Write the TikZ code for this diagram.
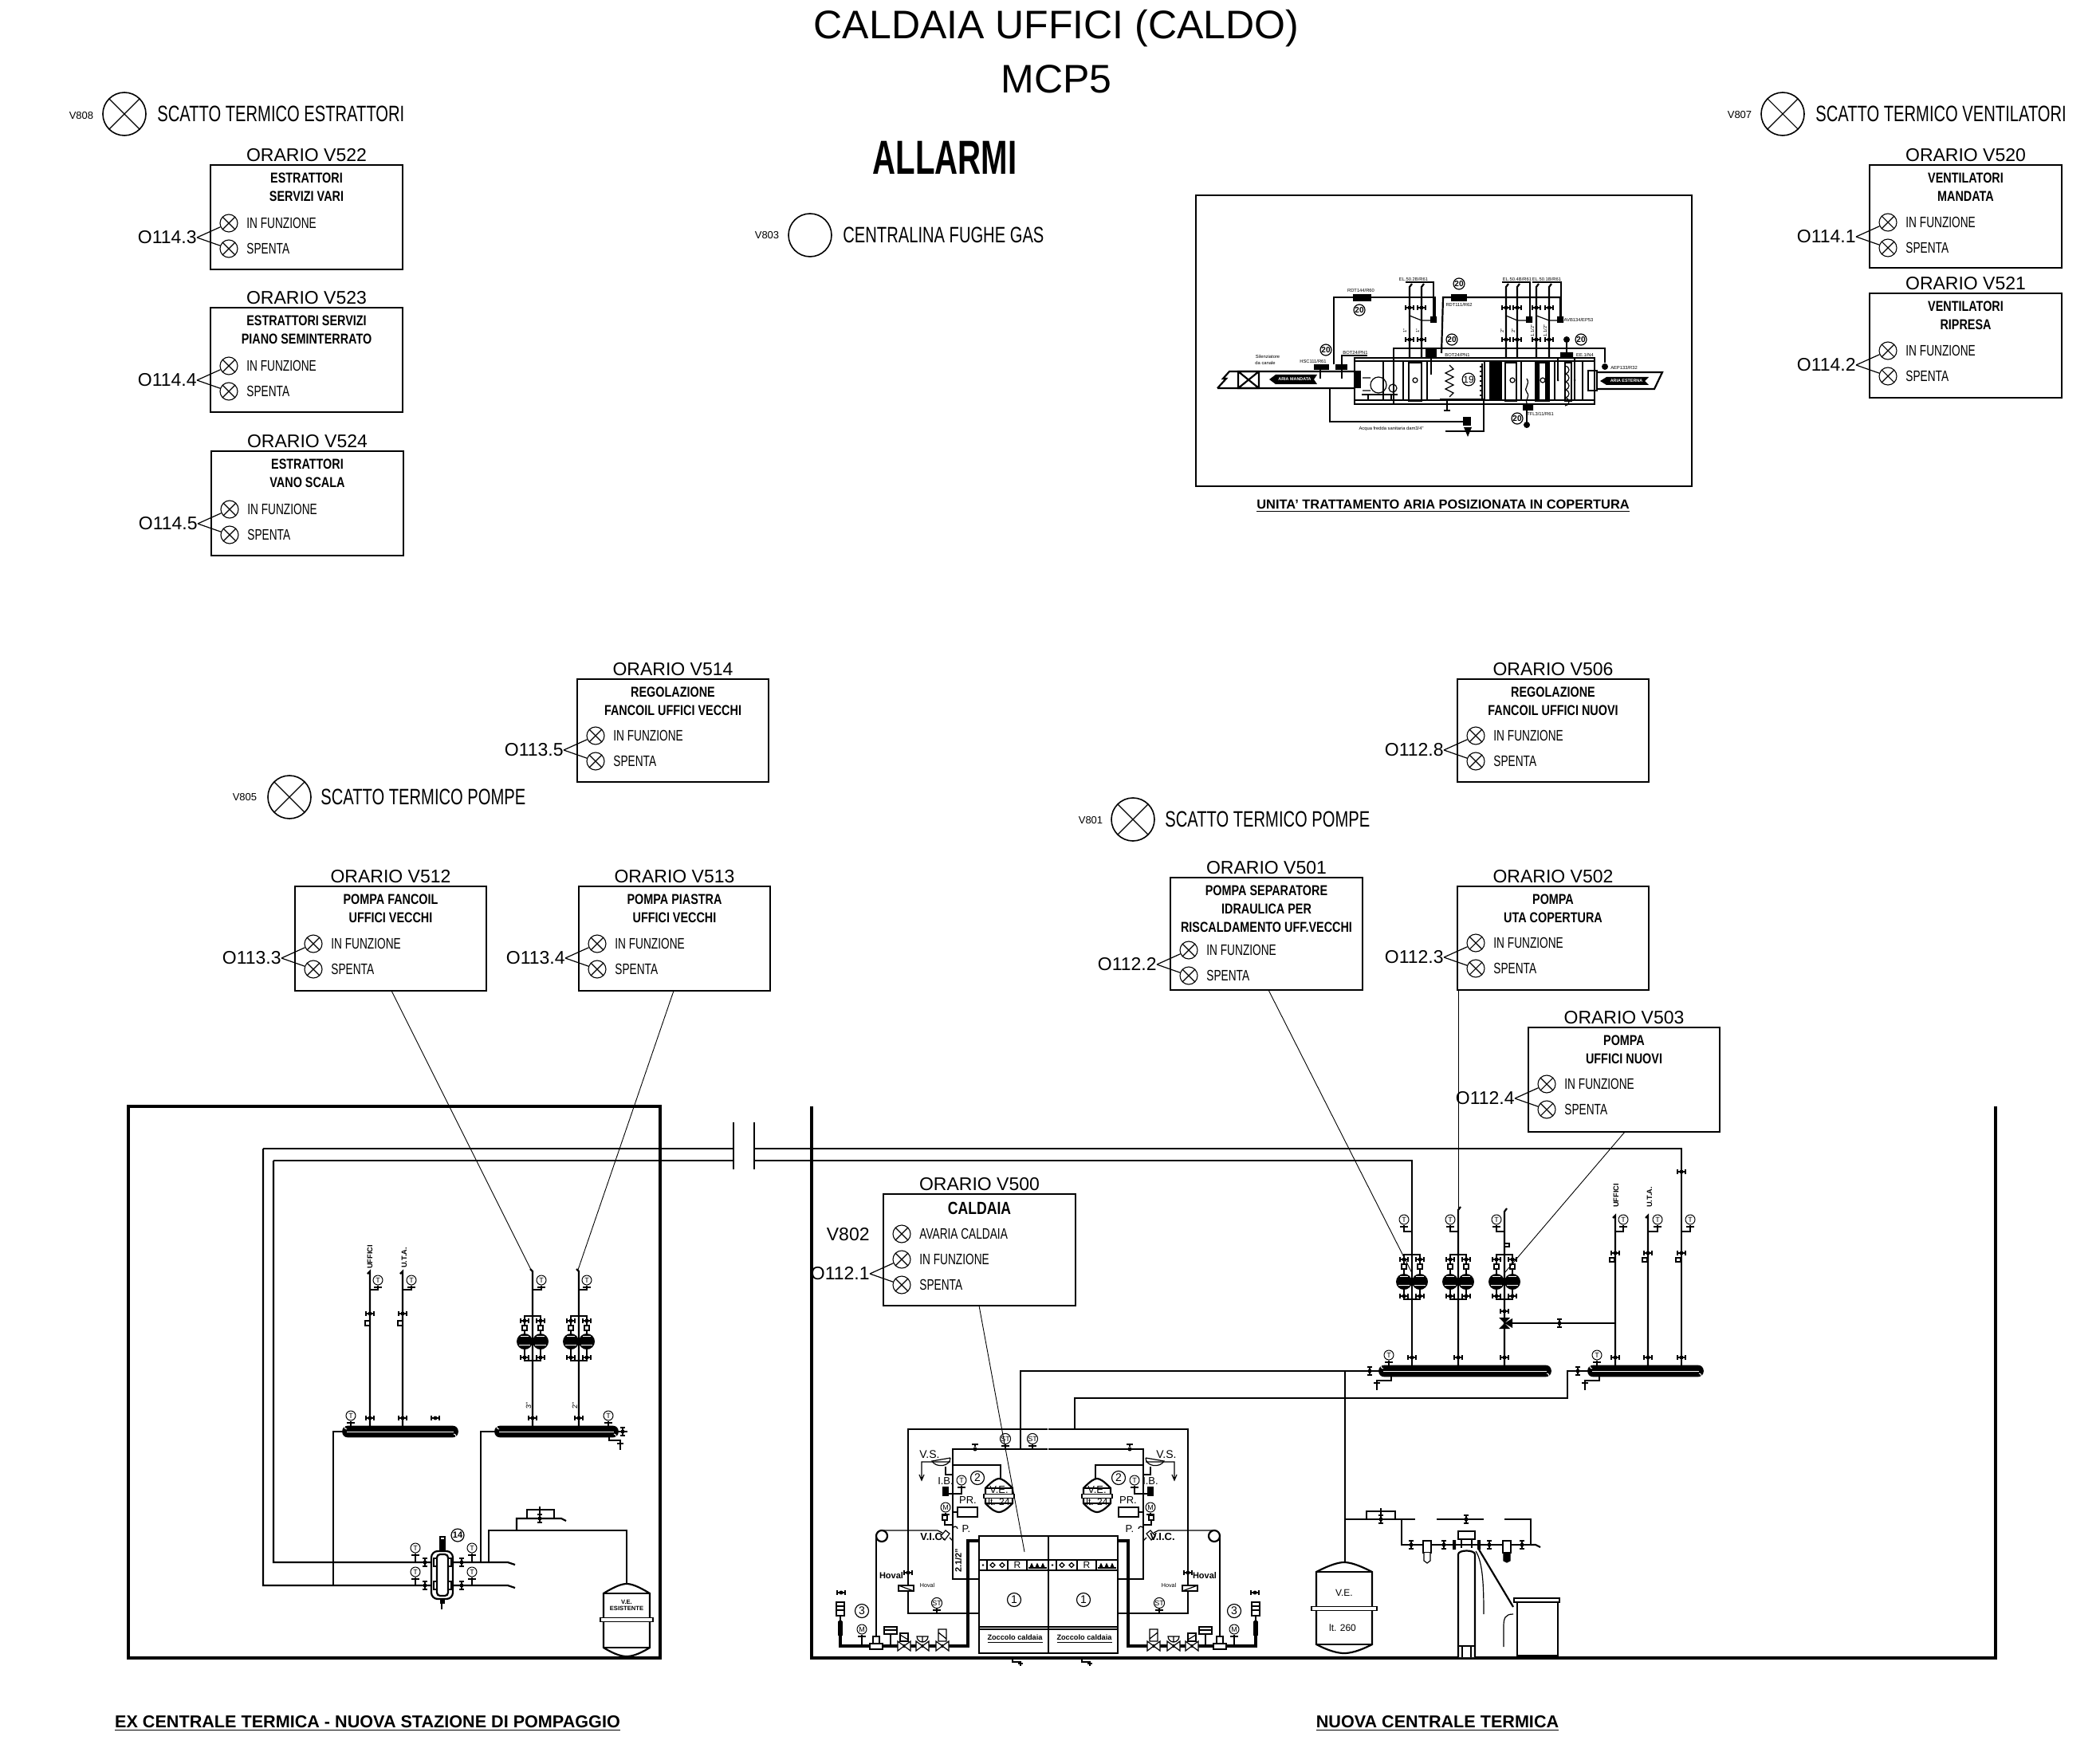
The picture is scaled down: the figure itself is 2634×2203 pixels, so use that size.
\documentclass[tikz,border=0pt]{standalone}
\usepackage{fontspec}
\setmainfont{Liberation Sans}
\newfontfamily\cad{Liberation Sans}[FakeStretch=0.72]
\newfontfamily\cadb{Liberation Sans}[FakeStretch=0.8]
\newcommand{\fsz}[1]{\fontsize{#1}{#1}\selectfont}
\newcount\ndc
\tikzset{
  lamp/.style={circle,draw,minimum size=#1pt,inner sep=0pt,line width=.55pt,
    path picture={\draw[line width=.55pt] (path picture bounding box.north west)--(path picture bounding box.south east)
      (path picture bounding box.north east)--(path picture bounding box.south west);}},
  boxln/.style={line width=.75pt},
  leader/.style={line width=.45pt},
  pipe/.style={line width=1.1pt},
  pipek/.style={line width=2pt},
  pipet/.style={line width=.6pt},
  wall/.style={line width=2pt},
  gaugec/.style={circle,draw,fill=white,line width=.5pt,minimum size=6pt,inner sep=0pt,font=\fsz{4.5}},
  num/.style={circle,draw,fill=white,line width=.6pt,minimum size=8.5pt,inner sep=0pt,font=\fsz{7}},
  numa/.style={circle,draw,fill=white,line width=.6pt,minimum size=7pt,inner sep=0pt,font=\bfseries\fsz{5}},
  orario/.style={inner sep=0pt,font=\fsz{11.5}},
  olabel/.style={inner sep=0pt,anchor=east,font=\fsz{11.5}},
  statetxt/.style={inner sep=0pt,anchor=west,font=\cad\fsz{9.5}},
  headtxt/.style={inner sep=0pt,anchor=north,align=center,font=\cadb\bfseries\fontsize{9}{11.5}\selectfont},
  vtag/.style={inner sep=0pt,font=\fsz{6.5}},
  bigtxt/.style={inner sep=0pt,anchor=west,font=\cad\fsz{14}},
  captxt/.style={inner sep=0pt,font=\bfseries\fsz{10.8}},
  tin/.style={inner sep=0pt,font=\bfseries\fsz{4.6}},
  mic/.style={inner sep=0pt,font=\fsz{2.9}},
}
% status panel: id x1 y1 x2 y2 orario heading olabel lamp-y
\newcommand{\statusbox}[9]{%
  \node[draw,boxln,inner sep=0pt,minimum width={(#4-#2)*0.5pt},minimum height={(#5-#3)*0.5pt}] (#1box) at ({(#2+#4)/2},{(#3+#5)/2}) {};
  \node[orario] (#1or) at ({(#2+#4)/2},{#3-12}) {#6};
  \node[headtxt] (#1hd) at ({(#2+#4)/2},{#3+10}) {#7};
  \node[lamp=11] (#1a) at ({#2+23},{#9}) {};
  \node[lamp=11] (#1b) at ({#2+23},{#9+32}) {};
  \node[statetxt] (#1ta) at ({#2+45},{#9}) {IN FUNZIONE};
  \node[statetxt] (#1tb) at ({#2+45},{#9+32}) {SPENTA};
  \node[olabel] (#1o) at ({#2-17},{#9+18}) {#8};
  \draw[pipet] (#1o.east) -- (#1a) (#1o.east) -- (#1b);
}
\newcommand{\gaugex}[5]{\global\advance\ndc by 1 \node[gaugec] (g\the\ndc) at (#2,#3) {#1};
  \draw[pipet] (g\the\ndc.south) |- (#4,#5); \draw[pipet] ({#2-5},{#3+9}) -- ({#2+5},{#3+9});}
\newcommand{\gauge}[4]{\gaugex{T}{#1}{#2}{#3}{#4}}
\newcommand{\valve}[3]{\begin{scope}[shift={(#1,#2)},rotate=#3]\draw[pipet] (-5,-3)--(-5,3) (5,-3)--(5,3) (-5,0)--(5,0);\fill (0,0) circle[radius=2.5];\end{scope}}
\newcommand{\pump}[2]{\fill (#1,#2) circle[radius=10];
  \draw[white,line width=.5pt] ({#1-7},{#2+4}) -- ({#1+7},{#2+4}) ({#1-5},{#2-7}) -- ({#1+5},{#2-7});}
\newcommand{\pumpblock}[4]{%
  \draw[pipe] ({#1-10},#4) -- ({#1-10},#2) -- ({#1+10},#2) -- ({#1+10},#3) -- ({#1-10},#3) -- cycle;
  \pump{#1-10}{#4}\pump{#1+10}{#4}
  \valve{#1-10}{#2+6}{0}\valve{#1+10}{#2+6}{0}
  \valve{#1-10}{#3-4}{0}\valve{#1+10}{#3-4}{0}
  \draw[pipet,fill=white] ({#1-13},{#2+12}) rectangle ++(6,6) ({#1+7},{#2+12}) rectangle ++(6,6);
}
\newcommand{\collector}[3]{%
  \draw[line width=.8pt,fill=black,rounded corners=3pt] (#1,{#3-6.5}) rectangle (#2,{#3+6.5});
  \draw[white,line width=.5pt] ({#1+5},#3) -- ({#2-5},#3);
  \draw[white,line width=.5pt] ({#1+5},{#3-3}) arc[start angle=90,end angle=270,radius=3] ({#2-5},{#3+3}) arc[start angle=-90,end angle=90,radius=3];
}
\newcommand{\vessel}[6]{%
  \draw[pipe,fill=white] ({#1-#4},{#3-11}) -- ({#1-#4},{#2+12}) .. controls ({#1-#4*.5},{#2+3}) and ({#1-#4*.2},#2) .. (#1,#2)
   .. controls ({#1+#4*.2},#2) and ({#1+#4*.5},{#2+3}) .. ({#1+#4},{#2+12}) -- ({#1+#4},{#3-11})
   .. controls ({#1+#4*.5},{#3-2}) and ({#1+#4*.2},#3) .. (#1,#3) .. controls ({#1-#4*.2},#3) and ({#1-#4*.5},{#3-2}) .. ({#1-#4},{#3-11}) -- cycle;
  \draw[pipet] ({#1-#4},{#2+12}) -- ({#1+#4},{#2+12}) ({#1-#4},{#3-11}) -- ({#1+#4},{#3-11});
  \draw[pipet,fill=white] ({#1-#6},{#5-2.5}) rectangle ({#1+#6},{#5+2.5});
}
\newcommand{\bowv}[2]{\draw[pipet,fill=white] ({#1-8},{#2-6}) -- ({#1+8},{#2+6}) -- ({#1+8},{#2-6}) -- ({#1-8},{#2+6}) -- cycle;}
\newcommand{\bunit}[2]{%
  \draw[pipe] (#2,1957) rectangle ({#2+87},1970);
  \draw[pipet] ({#2+10},1957)--({#2+10},1970) ({#2+36},1957)--({#2+36},1970) ({#2+60},1957)--({#2+60},1970);
  \fill ({#2+5},1963.5) circle[radius=1.4];
  \foreach \q in {17,29}{\draw[pipet] ({#2+\q-3},1963.5) -- ({#2+\q},1960.5) -- ({#2+\q+3},1963.5) -- ({#2+\q},1966.5) -- cycle;}
  \node[inner sep=0pt,font=\fsz{6}] (#1r) at ({#2+48},1963.5) {R};
  \foreach \q in {66,73,80}{\fill ({#2+\q-2.5},1966) -- ({#2+\q},1960.5) -- ({#2+\q+2.5},1966) -- cycle;}
  \draw[pipet] ({#2+62},1967) -- ({#2+85},1967);
  \node[num] (#1n) at ({#2+44},2007) {1};
  \node[inner sep=0pt,font=\bfseries\fsz{4.6}] (#1z) at ({#2+45},2056) {\underline{Zoccolo caldaia}};
  \draw[pipet] ({#2+42},2080) -- ({#2+42},2085) -- ({#2+52},2085) -- ({#2+52},2090) ({#2+49},2087) -- ({#2+55},2087);
}
\newcommand{\boilerhalf}[2]{%
  \draw[pipe] (1315,1793) -- (1490,1793) -- (1490,2024) -- (1402,2024);
  \draw[pipe] (1315,1818) -- (1434,1818) -- (1434,1981) -- (1402,1981);
  \draw[pipek] (1402,1933) -- (1415,1933) -- (1415,2065) -- (1575,2065) -- (1575,2033);
  \draw[line width=3pt] (1575,2052) -- (1575,2034);
  \draw[pipet,fill=white] (1570,2010) rectangle (1580,2027);
  \draw[pipet] (1570,2015)--(1580,2015) (1570,2020)--(1580,2020);
  \draw[pipet] (1575,2027) -- (1575,2033);
  \valve{1574}{1998}{0}
  % safety valve etc
  \draw[pipet] (1434,1838) -- (1374,1838) -- (1374,1855);
  \vessel{1376}{1855}{1897}{17}{1877}{19}
  \node[inner sep=0pt,font=\fsz{6.5}] (#1ve) at (1376,1869) {V.E.};
  \node[inner sep=0pt,font=\fsz{6}] (#1lt) at (1376,1884) {lt. 24};
  \node[num] (#1n2) at (1403,1854) {2};
  \gauge{1423}{1857}{1434}{1874}
  \draw[pipet] (1434,1850) -- (1443,1850) -- (1443,1840);
  \draw[pipet,fill=white] (1437,1829) .. controls (1437,1840) and (1455,1842) .. (1460,1833) -- (1437,1829);
  \draw[pipet] (1437,1834) -- (1473,1834) -- (1473,1857) (1470,1850) -- (1473,1857) -- (1476,1850);
  \node[inner sep=0pt,font=\fsz{7}] (#1vs) at (1463,1825) {V.S.};
  \node[inner sep=0pt,font=\fsz{6.5}] (#1ib) at (1443,1858) {I.B.};
  \draw[pipet] (1434,1874) -- (1443,1874);
  \draw[pipet,fill=black] (1440,1866) rectangle (1446,1876);
  \node[inner sep=0pt,font=\fsz{6.5}] (#1pr) at (1415,1882) {PR.};
  \draw[pipet,fill=white] (1403,1891) rectangle (1428,1903);
  \draw[pipet] (1428,1897) -- (1434,1897);
  \gaugex{M}{1443}{1891}{1443}{1901}
  \draw[pipet] (1441,1901) rectangle (1447,1907);
  \draw[pipet] (1444,1907) -- (1444,1913) -- (1434,1913);
  \node[inner sep=0pt,font=\fsz{6.5}] (#1p) at (1417,1918) {P.};
  \draw[pipet] (1428,1918) arc[start angle=180,end angle=360,radius=3];
  \draw[pipet,fill=white] (1438,1924) -- (1443,1920) -- (1449,1927) -- (1444,1932) -- cycle;
  \draw[pipet] (1434,1933) -- (1438,1929) (1447,1923) -- (1453,1920) -- (1523,1920);
  \node[inner sep=0pt,font=\bfseries\fsz{6.5}] (#1vic) at (#2,1928) {V.I.C.};
  \draw[pipe,fill=white] (1523,1927) circle[radius=7];
  \draw[pipet] (1530,1927) -- (1530,2053);
  \valve{1490}{1973}{0}
  \node[inner sep=0pt,font=\bfseries\fsz{5.5}] (#1ho) at (1511,1977) {Hoval};
  \draw[pipet,fill=white] (1483,1989) rectangle (1502,1996);
  \draw[pipet] (1483,1996) -- (1502,1989);
  \node[inner sep=0pt,font=\fsz{3.6}] (#1hs) at (1466,1989) {Hoval};
  \gaugex{ST}{1454}{2011}{1454}{2024}
  % bottom line fittings
  \bowv{1447}{2065}\draw[pipet,fill=white] (1442,2044) -- (1452,2044) -- (1452,2059) -- (1442,2059) -- cycle (1442,2056) -- (1452,2048);
  \bowv{1472}{2065}\draw[pipet] (1472,2059) -- (1472,2053) (1465,2053) arc[start angle=180,end angle=0,radius=7] -- cycle;
  \bowv{1495}{2065}\draw[pipet,fill=white] (1490,2049) rectangle (1500,2059);\draw[pipet] (1490,2057) -- (1500,2051);
  \draw[pipet,fill=white] (1504,2041) rectangle (1520,2050);\draw[pipet] (1504,2045) -- (1520,2045) (1512,2050) -- (1512,2065);
  \draw[pipet,fill=white] (1522,2062) rectangle (1538,2069);\draw[pipet,fill=white] (1526,2053) rectangle (1534,2062);
  \gaugex{M}{1548}{2044}{1548}{2065}
  \node[num] (#1n3) at (1548,2021) {3};
}
\begin{document}
\begin{tikzpicture}[x=0.5pt,y=-0.5pt,line cap=butt]
\useasboundingbox (0,0) rectangle (2634,2203);
\fill[white] (0,0) rectangle (2634,2203);

% ---- titles
\node[inner sep=0pt,font=\fsz{25}] (title) at (1325,36) {CALDAIA UFFICI (CALDO)};
\node[inner sep=0pt,font=\fsz{25}] (mcp) at (1325,99) {MCP5};
\node[inner sep=0pt] (allarmi) at (1185,198) {\scalebox{0.67}[1]{\fsz{30}\bfseries ALLARMI}};

% ---- big alarm lamps
\node[lamp=27,line width=.8pt] (l808) at (156,143) {};
\node[vtag] (t808) at (102,145) {V808};
\node[bigtxt] (x808) at (197,143) {SCATTO TERMICO ESTRATTORI};
\node[lamp=27,line width=.8pt] (l807) at (2236,143) {};
\node[vtag] (t807) at (2182,144) {V807};
\node[bigtxt] (x807) at (2277,143) {SCATTO TERMICO VENTILATORI};
\node[circle,draw,line width=.8pt,minimum size=27pt,inner sep=0pt] (l803) at (1016,295) {};
\node[vtag] (t803) at (962,295) {V803};
\node[bigtxt] (x803) at (1057,295) {CENTRALINA FUGHE GAS};
\node[lamp=27,line width=.8pt] (l805) at (363,1000) {};
\node[vtag] (t805) at (307,1000) {V805};
\node[bigtxt] (x805) at (402,1000) {SCATTO TERMICO POMPE};
\node[lamp=27,line width=.8pt] (l801) at (1421,1028) {};
\node[vtag] (t801) at (1368,1029) {V801};
\node[bigtxt] (x801) at (1461,1028) {SCATTO TERMICO POMPE};

% ---- status panels
\statusbox{a}{264}{207}{505}{338}{ORARIO  V522}{ESTRATTORI\\SERVIZI VARI}{O114.3}{280}
\statusbox{b}{264}{386}{505}{517}{ORARIO  V523}{ESTRATTORI SERVIZI\\PIANO SEMINTERRATO}{O114.4}{459}
\statusbox{c}{265}{566}{506}{697}{ORARIO  V524}{ESTRATTORI\\VANO SCALA}{O114.5}{639}
\statusbox{d}{2345}{207}{2586}{336}{ORARIO  V520}{VENTILATORI\\MANDATA}{O114.1}{279}
\statusbox{e}{2345}{368}{2586}{499}{ORARIO  V521}{VENTILATORI\\RIPRESA}{O114.2}{440}
\statusbox{f}{724}{852}{964}{981}{ORARIO  V514}{REGOLAZIONE\\FANCOIL UFFICI VECCHI}{O113.5}{923}
\statusbox{g}{370}{1112}{610}{1243}{ORARIO  V512}{POMPA FANCOIL\\UFFICI VECCHI}{O113.3}{1184}
\statusbox{h}{726}{1112}{966}{1243}{ORARIO  V513}{POMPA PIASTRA\\UFFICI VECCHI}{O113.4}{1184}
\statusbox{i}{1828}{852}{2068}{981}{ORARIO  V506}{REGOLAZIONE\\FANCOIL UFFICI NUOVI}{O112.8}{923}
\statusbox{j}{1468}{1101}{1709}{1242}{ORARIO  V501}{POMPA SEPARATORE\\IDRAULICA PER\\RISCALDAMENTO UFF.VECCHI}{O112.2}{1192}
\statusbox{k}{1828}{1112}{2068}{1242}{ORARIO  V502}{POMPA\\UTA COPERTURA}{O112.3}{1183}
\statusbox{m}{1917}{1289}{2157}{1420}{ORARIO  V503}{POMPA\\UFFICI NUOVI}{O112.4}{1360}
\statusbox{n}{1108}{1498}{1349}{1638}{ORARIO  V500}{{\fsz{11}CALDAIA}}{O112.1}{1580}
\node[lamp=11] (nx) at (1131,1548) {};
\node[statetxt] (ntx) at (1153,1548) {AVARIA CALDAIA};
\node[olabel] (v802) at (1091,1549) {V802};

% ---- AHU frame
\node[draw,line width=1.1pt,inner sep=0pt,minimum width=311pt,minimum height=182.5pt] (ahubox) at (1811,427.5) {};
\node[inner sep=0pt,font=\bfseries\fsz{8.2}] (ahucap) at (1810,635) {\underline{UNITA' TRATTAMENTO ARIA POSIZIONATA IN COPERTURA}};
% ducts & casing
\draw[pipe] (1527,487) -- (1538,475) -- (1534,475) -- (1542,466) -- (1699,466) (1527,487) -- (1699,487);
\draw[pipe] (1553,466) rectangle (1579,487) (1553,466) -- (1579,487) (1579,466) -- (1553,487);
\fill (1592,476) -- (1600,470) -- (1652,470) -- (1648,476) -- (1652,482) -- (1600,482) -- cycle;
\node[inner sep=0pt,text=white,font=\bfseries\fsz{2.7}] (aria1) at (1624,476) {ARIA MANDATA};
\draw[line width=1.2pt] (1699,449) rectangle (2000,507);
\draw[pipet] (1699,453) -- (2000,453) (1699,502) -- (2000,502);
\fill (1700,465) rectangle (1707,487);
\draw[pipet] (1729,483) circle[radius=10] (1719,474) -- (1709,474) (1719,490) -- (1709,490);
\draw[pipet] (1747,487) circle[radius=5];
\draw[pipe] (1708,495) -- (1753,495);
\draw[pipet] (1716,495) -- (1716,502) (1745,495) -- (1745,502);
\foreach \xx in {1735,1760,1767,1783,1790,1862,1869,1883,1888,1902,1908,1926,1943,1950,1975,1985}{\draw[pipet] (\xx,453) -- (\xx,502);}
\draw[pipe] (1767,455) rectangle (1783,503) (1888,455) rectangle (1902,503) (1926,455) rectangle (1943,503);
\fill (1926,455) rectangle (1931,503) (1938,455) rectangle (1943,503);
\fill (1870,453) rectangle (1882,502);
\draw[pipet] (1775,477) circle[radius=3] (1897,477) circle[radius=3] (1935,477) circle[radius=3];
\draw[pipet] (1818,458) -- (1823,463) -- (1813,468) -- (1823,473) -- (1813,478) -- (1823,483) -- (1813,488) -- (1823,493) -- (1818,498);
\node[num,minimum size=7pt,font=\fsz{6}] (n19) at (1842,476) {19};
\draw[pipet] (1859,456) -- (1859,500);
\foreach \yy in {460,466,...,496}{\draw[pipet] (1859,\yy) -- (1856,\yy);}
\draw[pipe] (1806,501) -- (1862,501);
\draw[pipe] (1815,503) -- (1815,515) (1811,515) -- (1819,515);
\draw[pipet] (1915,475) .. controls (1920,482) and (1910,488) .. (1915,492) .. controls (1920,498) and (1912,502) .. (1915,506);
\draw[pipet] (1963,455) rectangle (1971,503);
\foreach \yy in {459,469,...,499}{\draw[pipet] (1963,\yy) arc[start angle=-90,end angle=90,radius=5];}
\draw[pipe] (1992,465) rectangle (2003,490);
\draw[pipe] (2003,467) -- (2085,467) -- (2075,488) -- (2003,488);
\fill (2007,478) -- (2015,473) -- (2068,473) -- (2063,478) -- (2068,483) -- (2015,483) -- cycle;
\node[inner sep=0pt,text=white,font=\bfseries\fsz{2.7}] (aria2) at (2040,478) {ARIA ESTERNA};
% water
\draw[pipet] (1668,487) -- (1668,529) -- (1836,529);
\draw[pipe] (1813,541) -- (1861,541) -- (1861,503);
\fill (1835,523) rectangle (1845,534);
\fill (1836,536) -- (1846,536) -- (1841,548) -- cycle;
\node[mic] (acq) at (1745,538) {Acqua fredda sanitaria dam3/4"};
\node[mic] (sil1) at (1590,447) {Silenziatore};
\node[mic] (sil2) at (1587,455) {da canale};
% sensors
\node[mic] (hsc) at (1647,453) {HSC111/R61};
\fill (1648,457) rectangle (1667,464);
\draw[pipet] (1656,464) -- (1656,475);
\fill (1675,457) rectangle (1690,464);
\draw[pipet] (1683,464) -- (1683,475) (1683,457) -- (1683,446) -- (1715,446);
\node[mic] (bot1) at (1700,442) {BOT24/PN1};
\node[numa] (c20a) at (1663,439) {20};
\draw[pipe] (1673,457) -- (1673,373) -- (1800,373) -- (1800,397);
\fill (1697,369) rectangle (1720,378);
\node[mic] (rdt1) at (1707,364) {RDT144/R60};
\node[numa] (c20b) at (1705,389) {20};
% coil piping
\foreach \xa/\xb in {1768/1783,1889/1903,1927/1943}{
  \draw[pipe] (\xa,450) -- (\xa,360) -- ++(3,-4) (\xb,450) -- (\xb,360) -- ++(3,-4);
  \valve{\xa}{386}{0}\valve{\xb}{386}{0}\valve{\xa}{426}{0}\valve{\xb}{426}{0}
  \draw[pipet] (\xa,396) -- (\xb,402) -- ++(12,0);
}
\fill (1794,397) rectangle (1802,405) (1914,397) rectangle (1922,405) (1953,397) rectangle (1961,405);
\draw[pipet] (1763,354) -- (1798,354) -- (1798,397) (1884,354) -- (1919,354) -- (1919,397) (1922,354) -- (1958,354) -- (1958,397);
\node[mic] (el1) at (1773,350) {EL.50.2B/R61};
\node[mic] (el2) at (1903,350) {EL.50.4B/R61};
\node[mic] (el3) at (1940,350) {EL.50.1B/R61};
\node[mic] (avb) at (1980,401) {AVB134/EP53};
\node[mic,rotate=90] (s1) at (1762,415) {1"};
\node[mic,rotate=90] (s2) at (1778,415) {1"};
\node[mic,rotate=90] (s3) at (1884,415) {2"};
\node[mic,rotate=90] (s4) at (1898,415) {2"};
\node[mic,rotate=90] (s5) at (1922,415) {1.1/2"};
\node[mic,rotate=90] (s6) at (1938,415) {1.1/2"};
\draw[pipet] (1748,507) -- (1748,437) -- (2013,437) -- (2013,455);
\draw[pipe] (1808,443) -- (1810,373) -- (1957,373) -- (1957,397);
\fill (1820,369) rectangle (1840,378);
\fill (1788,438) rectangle (1802,448);
\draw[pipet] (1795,448) -- (1795,470);
\node[mic] (rdt2) at (1830,382) {RDT111/R62};
\node[numa] (c20c) at (1830,356) {20};
\node[numa] (c20d) at (1821,426) {20};
\node[mic] (bot2) at (1828,445) {BOT24/PN1};
\fill (1965,426) circle[radius=4] (1957,442) rectangle (1973,448);
\draw[pipet] (1965,426) -- (1965,442) (1954,448) -- (1954,477) (1975,448) -- (1975,477);
\fill (1954,477) circle[radius=1.5] (1975,477) circle[radius=1.5];
\node[mic] (ee) at (1988,445) {EE.1/N4};
\node[numa] (c20e) at (1983,426) {20};
\fill (2013,460) circle[radius=4];
\node[mic] (aep) at (2037,461) {AEP133/R32};
\fill (1910,508) rectangle (1923,515) (1915,533) circle[radius=4];
\draw[pipet] (1915,515) -- (1915,533);
\node[mic] (tfl) at (1932,519) {TFL3/11/R61};
\node[numa] (c20f) at (1903,525) {20};

% ---- left plant
\draw[wall] (161,1388) rectangle (828,2080);
\draw[pipe] (343,1456) -- (343,1960) -- (637,1960) -- ++(9,3);
\draw[pipe] (330,1441) -- (330,1989) -- (637,1989) -- ++(9,3);
\draw[pipe] (418,1989) -- (418,1796) -- (432,1796);
\draw[pipe] (603,1960) -- (603,1796) -- (623,1796);
\collector{430}{574}{1796}
\collector{621}{775}{1796}
\draw[pipe] (464,1790) -- (464,1595) -- ++(-3,3);
\draw[pipe] (505,1790) -- (505,1595) -- ++(-3,3);
\node[tin,rotate=90] (uf1) at (464,1577) {UFFICI};
\node[tin,rotate=90] (ut1) at (507,1578) {U.T.A.};
\gauge{474}{1606}{464}{1618}\gauge{516}{1606}{505}{1618}
\valve{464}{1648}{0}\valve{505}{1648}{0}\valve{464}{1779}{0}\valve{505}{1779}{0}\valve{546}{1779}{0}
\draw[pipet,fill=white] (458,1657) rectangle ++(6,6) (499,1657) rectangle ++(6,6);
\gauge{440}{1776}{440}{1790}\gauge{763}{1776}{763}{1790}
\draw[pipe] (668,1790) -- (668,1595) -- ++(-3,-3);
\draw[pipe] (726,1790) -- (726,1595) -- ++(-3,-3);
\pumpblock{668}{1651}{1707}{1683}
\pumpblock{726}{1651}{1707}{1683}
\gauge{679}{1606}{668}{1618}\gauge{736}{1606}{726}{1618}
\valve{668}{1779}{0}\valve{726}{1779}{0}
\node[mic,rotate=90,font=\fsz{4.5}] (s3a) at (663,1763) {3"};
\node[mic,rotate=90,font=\fsz{4.5}] (s2a) at (721,1763) {2"};
\draw[pipe] (775,1796) -- (787,1796);\valve{781}{1796}{90}
\draw[pipet] (764,1803) -- (764,1807) -- (778,1807) -- (778,1819) (774,1811) -- (782,1811);
\draw[pipe,fill=white,rounded corners=4pt] (541,1946) rectangle (568,2006);
\draw[pipe,fill=white,rounded corners=2pt] (548,1950) rectangle (562,2002);
\fill (551,1931) rectangle (559,1946);
\draw[pipet] (552,1928) rectangle (558,1932);
\node[num,minimum size=8pt,font=\bfseries\fsz{5.5}] (n14) at (574,1926) {14};
\draw[pipe] (554,2006) -- (554,2019);\fill (552,2006) rectangle (558,2012);
\draw[pipet,fill=white] (544,1955) rectangle (548,1965) (544,1984) rectangle (548,1994) (562,1955) rectangle (566,1965) (562,1984) rectangle (566,1994);
\gauge{521}{1942}{521}{1960}\gauge{592}{1942}{592}{1960}\gauge{521}{1972}{521}{1989}\gauge{592}{1972}{592}{1989}
\valve{533}{1960}{90}\valve{533}{1989}{90}\valve{579}{1960}{90}\valve{579}{1989}{90}
\draw[pipe] (613,1960) -- (613,1920) -- (786,1920) -- (786,1987);
\draw[pipe] (648,1920) -- (648,1905) -- (704,1905) -- ++(6,3);
\draw[pipe] (661,1905) -- (661,1894) -- (695,1894) -- (695,1905);
\valve{677}{1905}{90}\draw[pipet] (677,1890) -- (677,1900);
\vessel{786}{1987}{2078}{29}{2032}{33}
\node[inner sep=0pt,font=\bfseries\fsz{3.8}] (ve1) at (786,2010) {V.E.};
\node[inner sep=0pt,font=\bfseries\fsz{3.8}] (ve2) at (786,2018) {ESISTENTE};

% ---- connecting top pipes & break
\draw[pipe] (330,1441) -- (2109,1441) -- (2109,1713);
\draw[pipe] (343,1456) -- (1771,1456) -- (1771,1713);
\fill[white] (921,1430) rectangle (945,1466);
\draw[pipet] (920,1408) -- (920,1467) (946,1408) -- (946,1467);

% ---- right plant
\draw[wall] (1018,1388) -- (1018,2080) -- (2503,2080) -- (2503,1388);
\draw[pipe] (1829,1713) -- (1829,1518) -- ++(3,-4);
\draw[pipe] (1887,1713) -- (1887,1520) -- ++(3,-4);
\draw[pipe] (2026,1713) -- (2026,1525) -- ++(-3,3);
\draw[pipe] (2067,1713) -- (2067,1525) -- ++(-3,3);
\pumpblock{1771}{1574}{1630}{1608}
\pumpblock{1829}{1574}{1630}{1608}
\pumpblock{1887}{1574}{1630}{1608}
\node[tin,rotate=90] (uf2) at (2027,1500) {UFFICI};
\node[tin,rotate=90] (ut2) at (2069,1502) {U.T.A.};
\gauge{1761}{1530}{1771}{1545}\gauge{1819}{1530}{1829}{1545}\gauge{1877}{1530}{1887}{1545}
\gauge{2036}{1530}{2026}{1545}\gauge{2079}{1530}{2067}{1545}\gauge{2120}{1530}{2109}{1545}
\foreach \xx in {2026,2067,2109}{\valve{\xx}{1572}{0}\draw[pipet,fill=white] ({\xx-7},1578) rectangle ++(6,5);\valve{\xx}{1703}{0}}
\valve{2109}{1470}{0}
\draw[pipet,fill=white] (1887,1560) rectangle ++(6,4);
\valve{1771}{1703}{0}\valve{1829}{1703}{0}\valve{1887}{1703}{0}\valve{1887}{1645}{0}
\draw[pipe] (1887,1660) -- (2026,1660);\valve{1956}{1660}{90}
\fill (1880,1653) -- (1894,1667) -- (1880,1667) -- (1894,1653) -- cycle;
\fill (1887,1660) -- (1897,1654) -- (1897,1666) -- cycle;
\collector{1730}{1945}{1720}
\collector{1992}{2136}{1720}
\draw[pipe] (1280,1818) -- (1280,1720) -- (1732,1720);\valve{1718}{1720}{90}
\draw[pipe] (1348,1793) -- (1348,1754) -- (1966,1754) -- (1966,1720) -- (1994,1720);\valve{1979}{1720}{90}
\gauge{1742}{1700}{1742}{1714}\gauge{2003}{1700}{2003}{1714}
\draw[pipet] (1745,1726) -- (1745,1732) -- (1727,1732) -- (1727,1744) (1723,1735) -- (1731,1735);
\draw[pipet] (2006,1726) -- (2006,1732) -- (1988,1732) -- (1988,1744) (1984,1735) -- (1992,1735);
\draw[pipe] (1687,1720) -- (1687,1960);
\vessel{1686}{1960}{2074}{35}{2018}{41}
\node[inner sep=0pt,font=\fsz{6}] (ve3) at (1686,1998) {V.E.};
\node[inner sep=0pt,font=\fsz{6}] (ve4) at (1684,2042) {lt. 260};
\draw[pipe] (1687,1906) -- (1775,1906) (1802,1906) -- (1861,1906) (1887,1906) -- (1920,1906) -- (1920,1938) -- (1758,1938) -- (1758,1906);
\draw[pipe] (1920,1938) -- (1926,1938) -- ++(6,3);
\draw[pipe] (1714,1906) -- (1714,1896) -- (1750,1896) -- (1750,1906);
\valve{1732}{1906}{90}\draw[pipet] (1732,1892) -- (1732,1900);
\valve{1839}{1906}{90}
\draw[pipe,fill=white] (1829,2079) -- (1829,1950) .. controls (1829,1944) and (1850,1944) .. (1850,1950) -- (1850,2079);
\draw[pipet] (1834,2079) -- (1834,2065) (1845,2079) -- (1845,2065) (1829,2065) -- (1850,2065);
\draw[pipe,fill=white] (1829,1921) rectangle (1850,1931);
\draw[pipe] (1833,1931) -- (1833,1942) (1846,1931) -- (1846,1942);
\fill (1822,1932) rectangle (1826,1944) (1853,1932) rectangle (1857,1944);
\foreach \xx in {1770,1811,1868,1909}{\valve{\xx}{1938}{90}}
\draw[pipet,fill=white] (1785,1933) rectangle (1795,1948) (1885,1933) rectangle (1895,1948);
\draw[pipet,fill=white] (1786,1948) -- (1786,1958) -- (1790,1961) -- (1794,1958) -- (1794,1948);
\draw[pipet,fill=black] (1886,1948) -- (1886,1958) -- (1890,1960) -- (1894,1958) -- (1894,1948);
\draw[pipe] (1855,1944) -- (1898,2016);
\draw[pipet] (1851,1946) .. controls (1860,1960) and (1861,1990) .. (1861,2025);
\draw[pipet] (1898,2025) .. controls (1888,2025) and (1886,2030) .. (1886,2040) -- (1886,2066);
\draw[pipe,fill=white] (1903,2010) rectangle (1954,2077);
\draw[pipe,fill=white] (1899,2005) rectangle (1956,2010);
% boilers
\bunit{ua}{1228}\bunit{ub}{1315}
\draw[pipe] (1228,1927) rectangle (1402,2074);
\draw[pipe] (1315,1927) -- (1315,2074);
\draw[pipe] (1228,2041) -- (1402,2041);
\draw[pipe] (1228,2044) -- (1402,2044);
\boilerhalf{ra}{1458}
\begin{scope}[shift={(2629,0)},xscale=-1]
\boilerhalf{rb}{1459}
\end{scope}
\draw[pipe] (1280,1793) -- (1280,1818);
\gaugex{ST}{1295}{1805}{1295}{1818}
\gaugex{ST}{1261}{1805}{1261}{1818}
\draw[pipet] (1223,1815) -- (1223,1812) (1219,1812) -- (1227,1812) (1417,1815) -- (1417,1812) (1413,1812) -- (1421,1812);
\fill (1223,1818) circle[radius=2.5] (1417,1818) circle[radius=2.5];
\node[inner sep=0pt,rotate=90,font=\bfseries\fsz{5.5}] (s212) at (1202,1958) {2.1/2"};

% ---- leaders
\coordinate (e500) at (1285,1947);
\coordinate (e501) at (1771,1597);
\coordinate (e502) at (1829,1595);
\coordinate (e503) at (1887,1597);
\coordinate (e512) at (667,1595);
\coordinate (e513) at (725,1593);
\draw[leader] (1228,1638) -- (e500);
\draw[leader] (1591,1242) -- (e501);
\draw[leader] (1829,1242) -- (e502);
\draw[leader] (2038,1420) -- (e503);
\draw[leader] (491,1243) -- (e512);
\draw[leader] (845,1243) -- (e513);

% ---- bottom captions
\node[captxt] (ex) at (461,2162) {\underline{EX CENTRALE TERMICA - NUOVA STAZIONE DI POMPAGGIO}};
\node[captxt] (nu) at (1803,2162) {\underline{NUOVA CENTRALE TERMICA}};
\end{tikzpicture}
\end{document}
